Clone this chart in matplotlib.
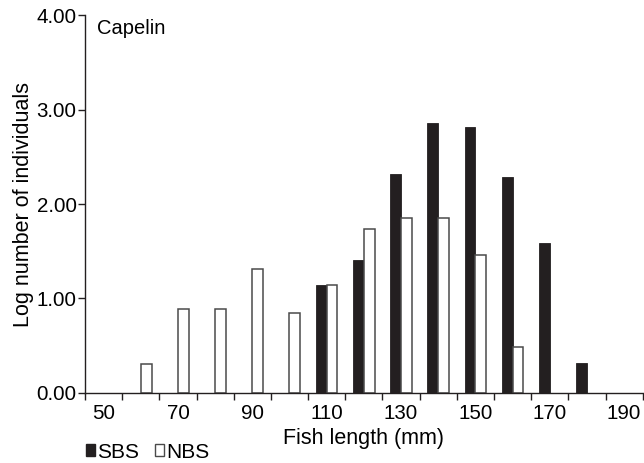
import matplotlib
matplotlib.use("Agg")
import matplotlib.pyplot as plt
import numpy as np
from matplotlib.patches import Patch

plt.rcParams['font.family'] = ['Liberation Sans', 'DejaVu Sans']

lengths = [50, 60, 70, 80, 90, 100, 110, 120, 130, 140, 150, 160, 170, 180, 190]
sbs = [0, 0, 0, 0, 0, 0, 1.14, 1.41, 2.32, 2.86, 2.82, 2.29, 1.59, 0.31, 0]
nbs = [0, 0.30, 0.89, 0.89, 1.31, 0.84, 1.14, 1.74, 1.85, 1.85, 1.46, 0.48, 0, 0, 0]
yticks = [0, 1, 2, 3, 4]
ytick_labels = ["0.00", "1.00", "2.00", "3.00", "4.00"]

fig = plt.figure(figsize=(6.44, 4.63), dpi=100)
ax = fig.add_axes([85/644, 1-392.7/463, 1-85/644-0.002, (392.7-15.5)/463])

x = np.arange(len(lengths))
sbs_a = np.array(sbs)
nbs_a = np.array(nbs)
w = 0.29
ms = sbs_a > 0
mn = nbs_a > 0
ax.bar(x[ms] - w/2, sbs_a[ms], width=w, color='#231f20', edgecolor='#231f20', linewidth=0.6, zorder=2)
ax.bar(x[mn] + w/2, nbs_a[mn], width=w, color='white', edgecolor='#4a4a4a', linewidth=1.1, zorder=2)

ax.set_xlim(-0.5, len(lengths) - 0.5)
ax.set_ylim(0, 4)
ax.spines['top'].set_visible(False)
ax.spines['right'].set_visible(False)
for s in ['left', 'bottom']:
    ax.spines[s].set_linewidth(1.0)
    ax.spines[s].set_color('#231f20')

ax.set_xticks(x[::2])
ax.set_xticklabels([str(v) for v in lengths[::2]], fontsize=14.8)
ax.tick_params(axis='x', which='major', length=0, pad=8)
ax.set_xticks(np.arange(-0.5, len(lengths), 1.0), minor=True)
ax.tick_params(axis='x', which='minor', length=5, width=1.0, color='#231f20', direction='out')

ax.set_yticks(yticks)
ax.set_yticklabels(ytick_labels, fontsize=14.8)
ax.tick_params(axis='y', length=5, width=1.0, color='#231f20', pad=1)

ax.set_xlabel("Fish length (mm)", fontsize=15.5, labelpad=4)
ax.set_ylabel("Log number of individuals", fontsize=15.5, labelpad=2)

fig.text(97/644, 1-28/463, "Capelin", fontsize=14.5, va='center', ha='left')

handles = [Patch(facecolor='#231f20', edgecolor='#231f20', label='SBS'),
           Patch(facecolor='white', edgecolor='#4a4a4a', label='NBS')]
fig.legend(handles=handles, loc='center left', bbox_to_anchor=(86/644, 1-452/463),
           ncol=2, frameon=False, fontsize=15, handlelength=0.45, handleheight=0.45,
           handletextpad=0.1, columnspacing=0.75, borderpad=0, borderaxespad=0)

fig.savefig("out.png", dpi=100)
